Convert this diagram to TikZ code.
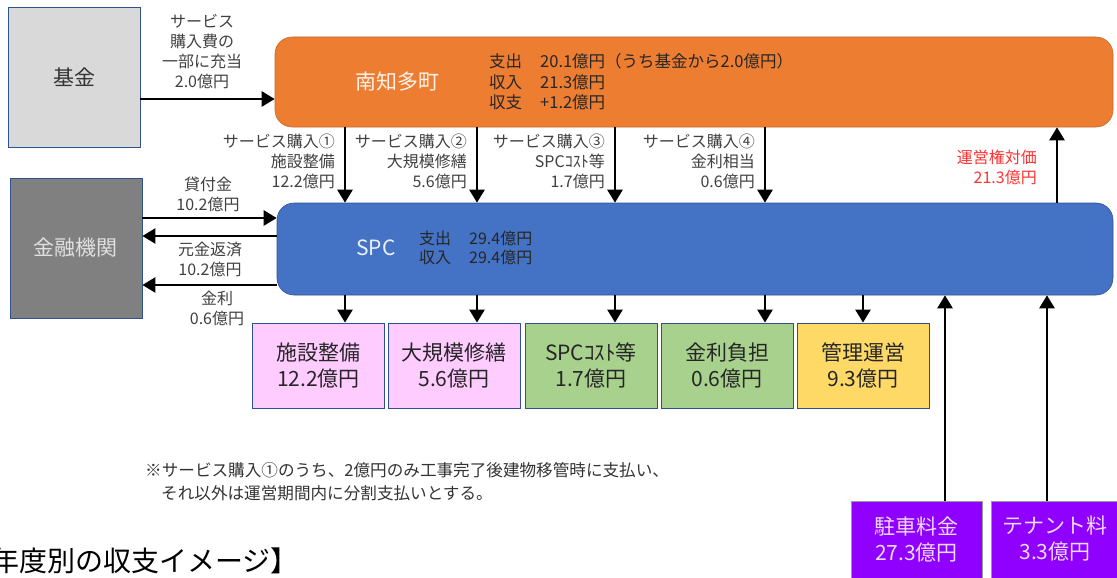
\documentclass[tikz,border=0pt]{standalone}
\usepackage{fontspec}
\setmainfont{Noto Sans CJK JP}
\usetikzlibrary{arrows.meta}
\definecolor{lbl}{HTML}{404040}
\definecolor{bord}{HTML}{2F528F}
\definecolor{orng}{HTML}{ED7D31}
\definecolor{blu}{HTML}{4472C4}
\definecolor{pnk}{HTML}{FFCCFF}
\definecolor{grn}{HTML}{A9D18E}
\definecolor{ylw}{HTML}{FFD966}
\definecolor{prp}{HTML}{9000FF}
\tikzset{
  box/.style={draw=bord, line width=0.8pt, inner sep=0pt, align=center},
  lab/.style={inner sep=0pt, text=lbl, font=\fontsize{16}{20}\selectfont},
  arr/.style={line width=2.6pt, -{Triangle[length=13pt,width=15pt]}},
  bigtxt/.style={font=\fontsize{21}{26}\selectfont},
}
\begin{document}
\begin{tikzpicture}[x=1pt,y=-1pt]
\useasboundingbox (0,0) rectangle (1117,578);
% main boxes
\node[box, fill=black!15, minimum width=132pt, minimum height=140pt, bigtxt, text=black!80] (kikin) at (74,77) {基金};
\node[box, fill=black!50, minimum width=132pt, minimum height=140pt, bigtxt, text=black!12] (bank) at (76,248) {金融機関};
\node[draw=orng!85!black, line width=0.6pt, fill=orng, rounded corners=17pt, minimum width=838pt, minimum height=90pt] (town) at (694,82) {};
\node[draw=bord, line width=0.6pt, fill=blu, rounded corners=17pt, minimum width=836pt, minimum height=92pt] (spc) at (695,249) {};
\node[inner sep=0pt, text=white!90!orng, font=\fontsize{21}{26}\selectfont] (townname) at (397,82) {南知多町};
\node[inner sep=0pt, text=white!90!blu, font=\fontsize{21}{26}\selectfont] (spcname) at (376,248) {SPC};
\node[inner sep=0pt, anchor=west, text=black!85, font=\fontsize{16.5}{20.5}\selectfont] (towntxt) at (489,84) {%
\begin{tabular}{@{}l@{\hspace{18pt}}l@{}}
支出 & 20.1億円（うち基金から2.0億円）\\
収入 & 21.3億円\\
収支 & +1.2億円
\end{tabular}};
\node[inner sep=0pt, anchor=west, text=black!85, font=\fontsize{16}{19.5}\selectfont] (spctxt) at (419,250) {%
\begin{tabular}{@{}l@{\hspace{18pt}}l@{}}
支出 & 29.4億円\\
収入 & 29.4億円
\end{tabular}};
% bottom boxes
\tikzset{sbox/.style={box, minimum width=132pt, minimum height=85pt, bigtxt, text=black!85}}
\node[sbox, fill=pnk] (b1) at (318.5,365.5) {施設整備\\12.2億円};
\node[sbox, fill=pnk] (b2) at (454,365.5) {大規模修繕\\5.6億円};
\node[sbox, fill=grn] (b3) at (591,365.5) {SPCｺｽﾄ等\\1.7億円};
\node[sbox, fill=grn] (b4) at (727,365.5) {金利負担\\0.6億円};
\node[sbox, fill=ylw] (b5) at (863,365.5) {管理運営\\9.3億円};
% purple boxes
\node[box, draw=black!40, fill=prp, minimum width=131pt, minimum height=89pt] (p1) at (916.5,545.5) {};
\node[box, draw=black!40, fill=prp, minimum width=134pt, minimum height=89pt] (p2) at (1058,545.5) {};
\node[inner sep=0pt, bigtxt, align=center, text=white!85!prp] (p1t) at (916.5,539) {駐車料金\\27.3億円};
\node[inner sep=0pt, bigtxt, align=center, text=white!85!prp] (p2t) at (1055,539) {テナント料\\3.3億円};
% coordinates
\coordinate (c1) at (345,0);
\coordinate (c2) at (477,0);
\coordinate (c3) at (615,0);
\coordinate (c4) at (765,0);
\coordinate (c5) at (863,0);
\coordinate (c6) at (1057,0);
\coordinate (c7) at (945,0);
\coordinate (c8) at (1047,0);
\coordinate (r1) at (0,99);
\coordinate (r2) at (0,218);
\coordinate (r3) at (0,236);
\coordinate (r4) at (0,285);
% arrows town -> spc
\foreach \c in {c1,c2,c3,c4}{\draw[arr] (\c |- town.south) -- (\c |- spc.north);}
% spc -> boxes
\draw[arr] (c1 |- spc.south) -- (c1 |- b1.north);
\draw[arr] (c2 |- spc.south) -- (c2 |- b2.north);
\draw[arr] (c3 |- spc.south) -- (c3 |- b3.north);
\draw[arr] (c4 |- spc.south) -- (c4 |- b4.north);
\draw[arr] (c5 |- spc.south) -- (c5 |- b5.north);
% spc -> town
\draw[arr] (c6 |- spc.north) -- (c6 |- town.south);
% purple -> spc
\draw[arr] (c7 |- p1.north) -- (c7 |- spc.south);
\draw[arr] (c8 |- p2.north) -- (c8 |- spc.south);
% left arrows
\draw[arr] (kikin.east |- r1) -- (town.west |- r1);
\draw[arr] (bank.east |- r2) -- (spc.west |- r2);
\draw[arr] (spc.west |- r3) -- (bank.east |- r3);
\draw[arr] (spc.west |- r4) -- (bank.east |- r4);
% labels
\node[lab, align=center] (l0) at (202,52) {サービス\\購入費の\\一部に充当\\2.0億円};
\node[lab, align=right, anchor=east] (l1) at (335,161) {サービス購入①\\施設整備\\12.2億円};
\node[lab, align=right, anchor=east] (l2) at (467,161) {サービス購入②\\大規模修繕\\5.6億円};
\node[lab, align=right, anchor=east] (l3) at (605,161) {サービス購入③\\SPCｺｽﾄ等\\1.7億円};
\node[lab, align=right, anchor=east] (l4) at (755,161) {サービス購入④\\金利相当\\0.6億円};
\node[lab, align=right, anchor=east, text=red!80] (l5) at (1037,167) {運営権対価\\21.3億円};
\node[lab, align=center] (l6) at (208,194) {貸付金\\10.2億円};
\node[lab, align=center] (l7) at (210,259) {元金返済\\10.2億円};
\node[lab, align=center] (l8) at (217,308) {金利\\0.6億円};
% note
\node[inner sep=0pt, anchor=west, align=left, text=black!80, font=\fontsize{16.6}{23}\selectfont] (note) at (145,482) {※サービス購入①のうち、2億円のみ工事完了後建物移管時に支払い、\\\hspace{16pt}それ以外は運営期間内に分割支払いとする。};
\node[inner sep=0pt, anchor=west, text=black, font=\fontsize{28}{32}\selectfont] (title) at (-9,561) {年度別の収支イメージ】};
\end{tikzpicture}
\end{document}
